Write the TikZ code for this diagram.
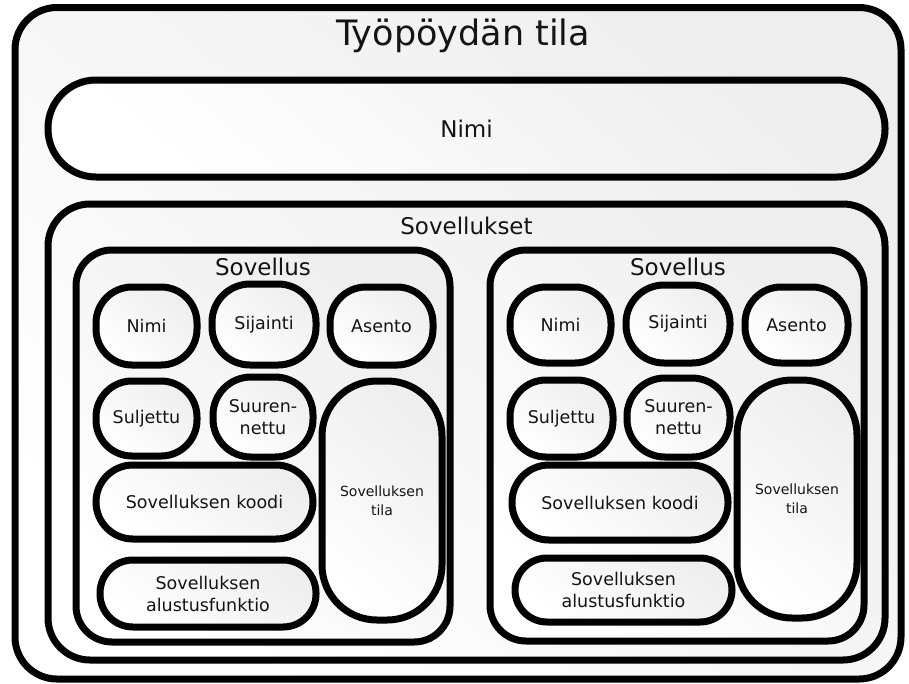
\documentclass[tikz,border=0pt]{standalone}
\usepackage{fontspec}
\setmainfont{DejaVu Sans}
\begin{document}
\begin{tikzpicture}[x=1pt,y=-1pt,
  blob/.style={draw=black, line width=7pt, top color=gray!13, bottom color=white,
    shading angle=-40, inner sep=0pt, align=center, text=black!92},
  bigtxt/.style={font=\fontsize{23}{28}\selectfont},
  midtxt/.style={font=\fontsize{17.5}{22}\selectfont},
  smalltxt/.style={font=\fontsize{14}{19}\selectfont},
  caption/.style={inner sep=0pt, text=black!92, anchor=base},
]
\useasboundingbox (0,0) rectangle (909,683);

% desktop container
\node[blob, minimum width=886pt, minimum height=671.5pt, rounded corners=42pt] (desk) at (458,343.25) {};
\node[caption, font=\fontsize{35}{40}\selectfont] (desktitle) at (463,45) {Työpöydän tila};

% desktop name
\node[blob, bigtxt, minimum width=837pt, minimum height=97pt, rounded corners=48pt] (dname) at (466.5,128.5) {Nimi};

% applications container
\node[blob, minimum width=837pt, minimum height=456pt, rounded corners=42pt] (apps) at (466.5,432) {};
\node[caption, bigtxt] (appstitle) at (466.5,234) {Sovellukset};

% left application
\node[blob, minimum width=374pt, minimum height=392pt, rounded corners=36pt] (appL) at (263,446) {};
\node[caption, bigtxt] (appLtitle) at (263,275) {Sovellus};
\node[blob, midtxt, minimum width=101pt, minimum height=78pt, rounded corners=36pt] (nimiL) at (146.5,326) {Nimi};
\node[blob, midtxt, minimum width=104pt, minimum height=81pt, rounded corners=38pt] (sijL) at (264,324.5) {Sijainti};
\node[blob, midtxt, minimum width=103pt, minimum height=78pt, rounded corners=36pt] (aseL) at (381.5,326) {Asento};
\node[blob, midtxt, minimum width=101pt, minimum height=75pt, rounded corners=36pt] (sulL) at (146.5,418.5) {Suljettu};
\node[blob, midtxt, minimum width=100pt, minimum height=80pt, rounded corners=38pt] (suuL) at (263,417) {Suuren-\\nettu};
\node[blob, smalltxt, minimum width=120pt, minimum height=239pt, rounded corners=55pt] (tilaL) at (382,500.5) {Sovelluksen\\tila};
\node[blob, midtxt, minimum width=217pt, minimum height=74pt, rounded corners=37pt] (koodiL) at (204.5,502) {Sovelluksen koodi};
\node[blob, midtxt, minimum width=216pt, minimum height=67pt, rounded corners=33pt] (aluL) at (208,593.5) {Sovelluksen\\alustusfunktio};

% right application
\node[blob, minimum width=374pt, minimum height=391pt, rounded corners=36pt] (appR) at (677,445.5) {};
\node[caption, bigtxt] (appRtitle) at (678,275) {Sovellus};
\node[blob, midtxt, minimum width=101pt, minimum height=76pt, rounded corners=36pt] (nimiR) at (560.5,325) {Nimi};
\node[blob, midtxt, minimum width=104pt, minimum height=78pt, rounded corners=38pt] (sijR) at (678,324) {Sijainti};
\node[blob, midtxt, minimum width=103pt, minimum height=76pt, rounded corners=36pt] (aseR) at (796.5,325) {Asento};
\node[blob, midtxt, minimum width=103pt, minimum height=77pt, rounded corners=36pt] (sulR) at (561.5,418.5) {Suljettu};
\node[blob, midtxt, minimum width=103pt, minimum height=79pt, rounded corners=38pt] (suuR) at (678.5,417.5) {Suuren-\\nettu};
\node[blob, smalltxt, minimum width=120pt, minimum height=238pt, rounded corners=55pt] (tilaR) at (797,499) {Sovelluksen\\tila};
\node[blob, midtxt, minimum width=216pt, minimum height=75pt, rounded corners=37pt] (koodiR) at (620,502.5) {Sovelluksen koodi};
\node[blob, midtxt, minimum width=217pt, minimum height=64pt, rounded corners=32pt] (aluR) at (623.5,590) {Sovelluksen\\alustusfunktio};
\end{tikzpicture}
\end{document}
